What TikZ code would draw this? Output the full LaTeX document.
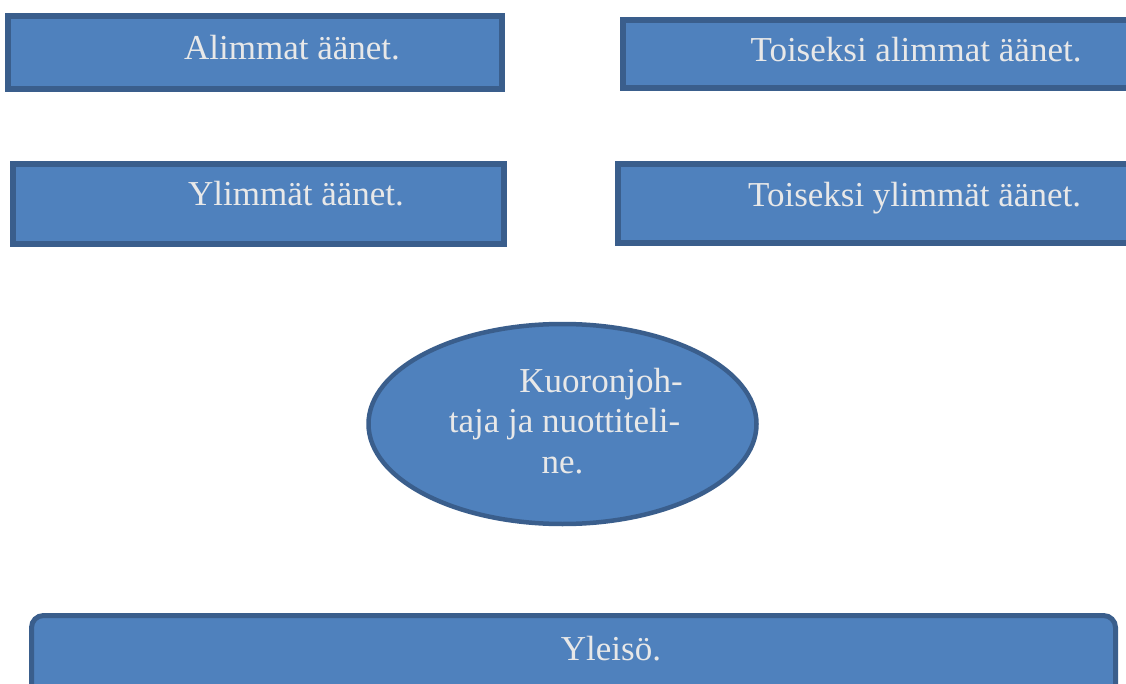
\documentclass[tikz,border=0pt]{standalone}
\usepackage{fontspec}
\setmainfont{Liberation Serif}
\usetikzlibrary{shapes.geometric}
\definecolor{boxfill}{HTML}{4F81BD}
\definecolor{boxline}{HTML}{3A5E8C}
\definecolor{txt}{HTML}{E8E8E8}
\begin{document}
\begin{tikzpicture}[x=1pt,y=-1pt,
  panel/.style={fill=boxfill,draw=boxline,line width=5.5pt,inner sep=0pt},
  lbl/.style={text=txt,font=\fontsize{35}{40}\selectfont,inner sep=0pt,anchor=base}]
\useasboundingbox (0,0) rectangle (1126,684);
\clip (0,0) rectangle (1126,684);
% boxes
\node[panel,rectangle,minimum width=494pt,minimum height=73pt] (low) at (255,52.5) {};
\node[panel,rectangle,minimum width=517pt,minimum height=68pt] (low2) at (881.5,54) {};
\node[panel,rectangle,minimum width=491pt,minimum height=80pt] (high) at (258.5,204) {};
\node[panel,rectangle,minimum width=522pt,minimum height=79pt] (high2) at (879,203.5) {};
% ellipse
\node[ellipse,panel,line width=4.5pt,minimum width=388pt,minimum height=200pt] (dir) at (562.5,424) {};
% audience
\node[panel,rectangle,line width=5pt,rounded corners=12pt,minimum width=1084pt,minimum height=94.5pt] (aud) at (573.5,662.75) {};
% labels
\node[lbl] (t1) at (292,60) {Alimmat äänet.};
\node[lbl] (t2) at (916,62) {Toiseksi alimmat äänet.};
\node[lbl] (t3) at (296,206) {Ylimmät äänet.};
\node[lbl] (t4) at (914.5,207) {Toiseksi ylimmät äänet.};
\node[lbl] (e1) at (601,392) {Kuoronjoh-};
\node[lbl] (e2) at (564.5,432) {taja ja nuottiteli-};
\node[lbl] (e3) at (562.5,473) {ne.};
\node[lbl] (t5) at (611,660) {Yleisö.};
\end{tikzpicture}
\end{document}
